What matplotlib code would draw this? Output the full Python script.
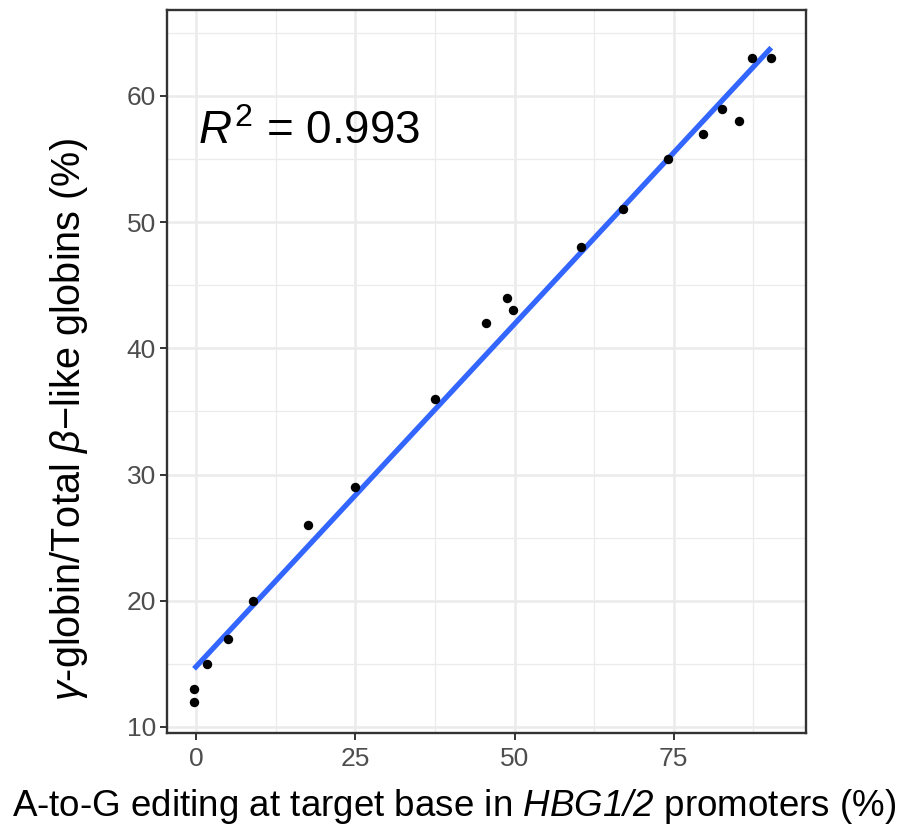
import numpy as np
import matplotlib
matplotlib.use("Agg")
import matplotlib.pyplot as plt
from matplotlib.ticker import MultipleLocator

plt.rcParams['font.family'] = ['Liberation Sans', 'DejaVu Sans']
plt.rcParams['mathtext.fontset'] = 'custom'
plt.rcParams['mathtext.rm'] = 'Liberation Sans'
plt.rcParams['mathtext.it'] = 'Liberation Sans:italic'
plt.rcParams['mathtext.sf'] = 'Liberation Sans:italic'

# editing (%) vs gamma-globin fraction (%)
editing = [-0.3, -0.3, 1.8, 5.0, 9.0, 17.6, 25.0, 37.5, 45.5, 48.8, 49.8,
           60.4, 67.0, 74.1, 79.6, 82.6, 85.2, 87.3, 90.3]
gamma = [12, 13, 15, 17, 20, 26, 29, 36, 42, 44, 43,
         48, 51, 55, 57, 59, 58, 63, 63]
r2_label = "0.993"

x = np.array(editing)
y = np.array(gamma)
slope, intercept = np.polyfit(x, y, 1)
xfit = np.array([x.min(), x.max()])

fig = plt.figure(figsize=(9.13, 8.31), dpi=100)
ax = fig.add_axes([0.1829, 0.1179, 0.6999, 0.8700])

ax.plot(xfit, slope * xfit + intercept, color='#3366FF', lw=3.8,
        solid_capstyle='butt', zorder=2)
ax.scatter(x, y, s=46, color='black', zorder=3, linewidths=0)

ax.text(0.3, 56.2, r"$R^2$ = " + r2_label, fontsize=33, ha='left',
        va='baseline')

ax.set_xlim(-4.55, 95.75)
ax.set_ylim(9.52, 66.8)
ax.xaxis.set_major_locator(MultipleLocator(25))
ax.xaxis.set_minor_locator(MultipleLocator(12.5))
ax.yaxis.set_major_locator(MultipleLocator(10))
ax.yaxis.set_minor_locator(MultipleLocator(5))

ax.grid(which='major', color='#EBEBEB', lw=1.8, zorder=0)
ax.grid(which='minor', color='#EBEBEB', lw=0.9, zorder=0)
ax.set_axisbelow(True)

for s in ax.spines.values():
    s.set_color('#333333')
    s.set_linewidth(1.7)

ax.tick_params(which='major', length=5, width=1.4, color='#333333',
               labelsize=19, labelcolor='#4D4D4D')
ax.tick_params(axis='y', pad=3)
ax.tick_params(axis='x', pad=5)
ax.tick_params(which='minor', length=0)

ax.set_xlabel(r"A-to-G editing at target base in $\mathsf{HBG1/2}$ promoters (%)",
              fontsize=26.5)
ax.set_ylabel(r"$\gamma$-globin/Total $\beta$−like globins (%)",
              fontsize=28.5)
ax.xaxis.set_label_coords(0.45, -0.075, transform=ax.transAxes)
ax.yaxis.set_label_coords(-0.12, 0.433, transform=ax.transAxes)

fig.savefig("out.png", dpi=100)
